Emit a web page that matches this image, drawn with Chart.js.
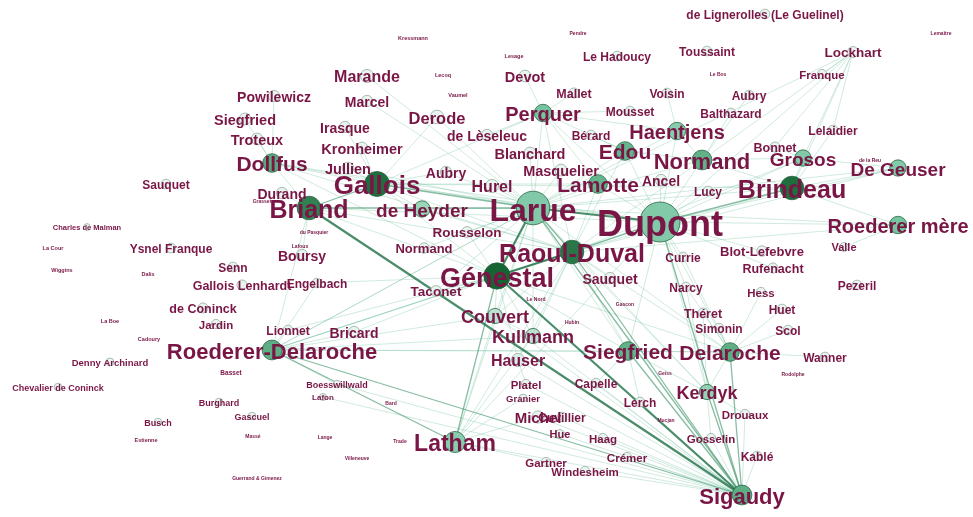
<!DOCTYPE html>
<html>
<head>
<meta charset="utf-8">
<script src="https://cdn.jsdelivr.net/npm/chart.js@4.4.1/dist/chart.umd.min.js"></script>
<style>
  html, body { margin: 0; padding: 0; background: #fff; }
  #wrap { width: 973px; height: 517px; }
</style>
</head>
<body>
<div id="wrap"><canvas id="network" width="973" height="517"></canvas></div>
<script>
// Hub nodes: name, x, y, weighted degree, shade (colour metric)
const hubNodes = [
    ['Dupont', 660, 222, 62, 0.45],
    ['Larue', 533, 208, 54, 0.45],
    ['Génestal', 497, 276, 44, 1.0],
    ['Raoul-Duval', 572, 252, 40, 0.9],
    ['Gallois', 377, 184, 42, 0.95],
    ['Briand', 309, 208, 40, 0.85],
    ['Brindeau', 792, 188, 40, 0.95],
    ['Roederer-Delaroche', 272, 350, 34, 0.62],
    ['Sigaudy', 742, 495, 34, 0.62],
    ['Latham', 455, 442, 36, 0.42],
    ['Siegfried', 628, 351, 32, 0.6],
    ['Delaroche', 730, 352, 32, 0.62],
    ['Normand', 702, 160, 34, 0.6],
    ['Lamotte', 598, 184, 32, 0.58],
    ['Edou', 625, 151, 32, 0.58],
    ['Grosos', 803, 158, 28, 0.45],
    ['Perquer', 543, 113, 30, 0.5],
    ['Haentjens', 677, 131, 30, 0.42],
    ['Dollfus', 272, 163, 32, 0.65],
    ['De Geuser', 898, 168, 28, 0.45],
    ['Roederer mère', 898, 225, 30, 0.5],
    ['Kerdyk', 707, 392, 26, 0.38],
    ['de Heyder', 422, 209, 28, 0.35],
    ['Couvert', 495, 316, 26, 0.22],
    ['Kullmann', 533, 336, 26, 0.22],
    ['Hauser', 518, 360, 22, 0.1]
];

// Member nodes: name, x, y, weighted degree
const memberNodes = [
    ['Marande', 367, 76, 22], ['Derode', 437, 117, 23], ['Powilewicz', 274, 96, 18],
    ['Siegfried#2', 245, 119, 19], ['Troteux', 257, 139, 19], ['Irasque', 345, 127, 18],
    ['Marcel', 367, 101, 18], ['Kronheimer', 362, 148, 19], ['Jullien', 348, 168, 19],
    ['de Lèseleuc', 487, 135, 18], ['Blanchard', 530, 153, 19], ['Masquelier', 561, 170, 19],
    ['Hurel', 492, 186, 22], ['Aubry', 446, 172, 18], ['Rousselon', 467, 232, 17],
    ['Normand#2', 424, 248, 16], ['Durand', 282, 193, 18], ['Boursy', 302, 255, 18],
    ['Sauquet', 166, 184, 14], ['Ysnel Franque', 171, 248, 14], ['Senn', 233, 267, 14],
    ['Gallois Lenhardt', 242, 285, 15], ['Engelbach', 317, 283, 14], ['de Coninck', 203, 308, 15],
    ['Jardin', 216, 324, 13], ['Lionnet', 288, 330, 14], ['Bricard', 354, 332, 18],
    ['Taconet', 436, 291, 17], ['Devot', 525, 76, 19], ['Mallet', 574, 93, 15],
    ['Le Hadoucy', 617, 56, 14], ['Mousset', 630, 111, 14], ['Voisin', 667, 93, 14],
    ['Bérard', 591, 135, 14], ['Ancel', 661, 180, 18], ['Lucy', 708, 191, 14],
    ['Toussaint', 707, 51, 14], ['Lockhart', 853, 52, 17], ['Franque', 822, 74, 13],
    ['Aubry#2', 749, 95, 14], ['Balthazard', 731, 113, 14], ['Lelaidier', 833, 130, 14],
    ['Bonnet', 775, 147, 15], ['Valle', 844, 247, 12], ['Currie', 683, 257, 14],
    ['Blot-Lefebvre', 762, 251, 16], ['Rufenacht', 773, 268, 15], ['Narcy', 686, 287, 14],
    ['Hess', 761, 292, 13], ['Pezeril', 857, 285, 14], ['Théret', 703, 313, 15],
    ['Huet', 782, 309, 14], ['Simonin', 719, 328, 14], ['Scol', 788, 330, 14],
    ['Wanner', 825, 357, 14], ['Sauquet#2', 610, 278, 18], ['Capelle', 596, 383, 14],
    ['Lerch', 640, 402, 14], ['Drouaux', 745, 414, 13], ['Gosselin', 711, 438, 13],
    ['Kablé', 757, 456, 14], ['Hue', 560, 434, 12], ['Haag', 603, 438, 13],
    ['Crémer', 627, 457, 13], ['Gartner', 546, 462, 13], ['Windesheim', 585, 471, 13],
    ['Cuvillier', 562, 417, 14], ['Michel', 538, 417, 20], ['Platel', 526, 384, 13],
    ['Granier', 523, 398, 9], ['Boesswillwald', 337, 384, 8], ['Lafon', 323, 397, 6],
    ['Burghard', 219, 402, 8], ['Gascuel', 252, 416, 8], ['Busch', 158, 422, 8],
    ['Denny Archinard', 110, 362, 9], ['Chevalier de Coninck', 58, 387, 8],
    ['de Lignerolles (Le Guelinel)', 765, 14, 14], ['Charles de Malman', 87, 227, 5]
];

// Isolated minor nodes: name, x, y, weighted degree
const minorNodes = [
    ['Kressmann', 413, 38, 1], ['Pendre', 578, 33, 0], ['Lemaître', 941, 33, 0],
    ['Lesage', 514, 56, 1], ['Lecoq', 443, 75, 1], ['Vaumel', 458, 95, 1],
    ['Le Bos', 718, 74, 0], ['de la Reu', 870, 160, 0], ['Grasset', 262, 201, 0],
    ['du Pasquier', 314, 232, 0], ['Lafoux', 300, 246, 0], ['La Cour', 53, 248, 1],
    ['Wiggins', 62, 270, 1], ['Dalis', 148, 274, 1], ['La Boe', 110, 321, 1],
    ['Cadoury', 149, 339, 1], ['Basset', 231, 372, 3], ['Le Nord', 536, 299, 0],
    ['Gascon', 625, 304, 0], ['Hubin', 572, 322, 0], ['Geiss', 665, 373, 0],
    ['Rodolphe', 793, 374, 0], ['Bard', 391, 403, 0], ['Mucjan', 666, 420, 0],
    ['Trade', 400, 441, 0], ['Lange', 325, 437, 0], ['Massé', 253, 436, 0],
    ['Estienne', 146, 440, 1], ['Villeneuve', 357, 458, 0], ['Guerrand & Gimenez', 257, 478, 0]
];

// Edges: source, target, weight
const edgeList = [
    ['Larue', 'Dupont', 3], ['Larue', 'Génestal', 3], ['Génestal', 'Sigaudy', 3],
    ['Briand', 'Sigaudy', 3], ['Raoul-Duval', 'Génestal', 3],
    ['Larue', 'Raoul-Duval', 2], ['Gallois', 'Larue', 2], ['Raoul-Duval', 'Sigaudy', 2],
    ['Larue', 'Sigaudy', 2], ['Roederer-Delaroche', 'Sigaudy', 2], ['Dupont', 'Raoul-Duval', 2],
    ['Dupont', 'Brindeau', 2], ['Roederer-Delaroche', 'Latham', 2], ['Dupont', 'Sigaudy', 2],
    ['Briand', 'Gallois', 2], ['Génestal', 'Latham', 2], ['Delaroche', 'Sigaudy', 2],
    ['Siegfried', 'Sigaudy', 2], ['Kerdyk', 'Sigaudy', 2], ['Briand', 'Larue', 2],
    ['Dupont', 'Roederer mère', 1], ['Dupont', 'De Geuser', 1], ['Dupont', 'Grosos', 1],
    ['Dupont', 'Normand', 1], ['Dupont', 'Edou', 1], ['Dupont', 'Lamotte', 1],
    ['Dupont', 'Haentjens', 1], ['Dupont', 'Génestal', 1], ['Dupont', 'Lockhart', 1],
    ['Dupont', 'Delaroche', 1], ['Dupont', 'Siegfried', 1], ['Dupont', 'Kerdyk', 1],
    ['Dupont', 'Currie', 1], ['Dupont', 'Blot-Lefebvre', 1], ['Dupont', 'Ancel', 1],
    ['Dupont', 'Lucy', 1], ['Dupont', 'Perquer', 1], ['Dupont', 'Narcy', 1],
    ['Dupont', 'Gallois', 1], ['Dupont', 'Briand', 1], ['Dupont', 'Dollfus', 1],
    ['Dupont', 'Roederer-Delaroche', 1], ['Dupont', 'Latham', 1], ['Dupont', 'Rufenacht', 1],
    ['Brindeau', 'Lockhart', 1], ['Brindeau', 'Roederer mère', 1], ['Brindeau', 'De Geuser', 1],
    ['Brindeau', 'Grosos', 1], ['Brindeau', 'Larue', 1], ['Brindeau', 'Normand', 1],
    ['Brindeau', 'Lelaidier', 1], ['Brindeau', 'Gallois', 1], ['Brindeau', 'Raoul-Duval', 1],
    ['Lockhart', 'Grosos', 1], ['Lockhart', 'Normand', 1], ['Lockhart', 'Franque', 1],
    ['Lockhart', 'Larue', 1], ['Lockhart', 'Lelaidier', 1], ['Lockhart', 'Bonnet', 1],
    ['Larue', 'Perquer', 1], ['Larue', 'Edou', 1], ['Larue', 'Lamotte', 1],
    ['Larue', 'Haentjens', 1], ['Larue', 'Normand', 1], ['Larue', 'de Heyder', 1],
    ['Larue', 'Hurel', 1], ['Larue', 'Dollfus', 1], ['Larue', 'Roederer-Delaroche', 1],
    ['Larue', 'Couvert', 1], ['Larue', 'Kullmann', 1], ['Larue', 'Latham', 1],
    ['Larue', 'Siegfried', 1], ['Larue', 'Delaroche', 1], ['Larue', 'Kerdyk', 1],
    ['Larue', 'Jullien', 1], ['Larue', 'Roederer mère', 1], ['Larue', 'De Geuser', 1],
    ['Larue', 'Marande', 1], ['Larue', 'Marcel', 1], ['Larue', 'Derode', 1],
    ['Larue', 'Aubry', 1], ['Larue', 'Blanchard', 1], ['Larue', 'Masquelier', 1],
    ['Larue', 'Taconet', 1], ['Larue', 'Normand#2', 1], ['Larue', 'Rousselon', 1],
    ['Gallois', 'Dollfus', 1], ['Gallois', 'Jullien', 1], ['Gallois', 'Génestal', 1],
    ['Gallois', 'de Heyder', 1], ['Gallois', 'Aubry', 1], ['Gallois', 'Perquer', 1],
    ['Gallois', 'Derode', 1], ['Gallois', 'Irasque', 1], ['Gallois', 'Kronheimer', 1],
    ['Gallois', 'Lamotte', 1], ['Gallois', 'Raoul-Duval', 1],
    ['Briand', 'Raoul-Duval', 1], ['Briand', 'Roederer-Delaroche', 1], ['Briand', 'Génestal', 1],
    ['Briand', 'Durand', 1], ['Briand', 'Boursy', 1], ['Briand', 'Dollfus', 1],
    ['Génestal', 'Roederer-Delaroche', 1], ['Génestal', 'Couvert', 1], ['Génestal', 'Kullmann', 1],
    ['Génestal', 'Siegfried', 1], ['Génestal', 'Delaroche', 1], ['Génestal', 'Taconet', 1],
    ['Génestal', 'Hauser', 1], ['Génestal', 'Lionnet', 1], ['Génestal', 'Bricard', 1],
    ['Génestal', 'Engelbach', 1], ['Génestal', 'Rousselon', 1], ['Génestal', 'Dollfus', 1],
    ['Roederer-Delaroche', 'Raoul-Duval', 1], ['Roederer-Delaroche', 'Lionnet', 1],
    ['Roederer-Delaroche', 'Kullmann', 1], ['Roederer-Delaroche', 'Siegfried', 1],
    ['Roederer-Delaroche', 'Delaroche', 1], ['Roederer-Delaroche', 'Boesswillwald', 1],
    ['Roederer-Delaroche', 'Engelbach', 1], ['Roederer-Delaroche', 'Couvert', 1],
    ['Roederer-Delaroche', 'Bricard', 1], ['Roederer-Delaroche', 'Larue', 1],
    ['Siegfried', 'Delaroche', 1], ['Siegfried', 'Raoul-Duval', 1], ['Siegfried', 'Lerch', 1],
    ['Siegfried', 'Capelle', 1], ['Siegfried', 'Kerdyk', 1],
    ['Delaroche', 'Kerdyk', 1], ['Delaroche', 'Raoul-Duval', 1], ['Delaroche', 'Théret', 1],
    ['Delaroche', 'Simonin', 1], ['Delaroche', 'Hess', 1], ['Delaroche', 'Huet', 1],
    ['Delaroche', 'Scol', 1], ['Delaroche', 'Wanner', 1], ['Delaroche', 'Narcy', 1],
    ['Delaroche', 'Currie', 1],
    ['Kerdyk', 'Raoul-Duval', 1], ['Kerdyk', 'Gosselin', 1], ['Kerdyk', 'Drouaux', 1],
    ['Kerdyk', 'Théret', 1], ['Kerdyk', 'Narcy', 1],
    ['Latham', 'Kullmann', 1], ['Latham', 'Couvert', 1], ['Latham', 'Raoul-Duval', 1],
    ['Latham', 'Gartner', 1], ['Latham', 'Michel', 1], ['Latham', 'Granier', 1],
    ['Perquer', 'Edou', 1], ['Perquer', 'Lamotte', 1], ['Perquer', 'Haentjens', 1],
    ['Perquer', 'Mousset', 1], ['Perquer', 'de Lèseleuc', 1], ['Perquer', 'Mallet', 1],
    ['Perquer', 'Devot', 1], ['Perquer', 'Raoul-Duval', 1],
    ['Normand', 'Edou', 1], ['Normand', 'Haentjens', 1], ['Normand', 'Grosos', 1],
    ['Normand', 'Balthazard', 1], ['Normand', 'Aubry#2', 1], ['Normand', 'Raoul-Duval', 1],
    ['Haentjens', 'Voisin', 1], ['Edou', 'Bérard', 1], ['Edou', 'Raoul-Duval', 1],
    ['Lamotte', 'Raoul-Duval', 1], ['Grosos', 'Raoul-Duval', 1], ['Grosos', 'Bonnet', 1],
    ['Roederer mère', 'Valle', 1], ['Roederer mère', 'Raoul-Duval', 1],
    ['De Geuser', 'Raoul-Duval', 1], ['De Geuser', 'Grosos', 1],
    ['Dollfus', 'Powilewicz', 1], ['Dollfus', 'Siegfried#2', 1], ['Dollfus', 'Troteux', 1],
    ['Dollfus', 'Raoul-Duval', 1],
    ['Raoul-Duval', 'Sauquet#2', 1], ['Raoul-Duval', 'Couvert', 1], ['Raoul-Duval', 'Kullmann', 1],
    ['Raoul-Duval', 'Hauser', 1], ['Raoul-Duval', 'de Heyder', 1],
    ['Sigaudy', 'Kullmann', 1], ['Sigaudy', 'Hauser', 1], ['Sigaudy', 'Couvert', 1],
    ['Sigaudy', 'Capelle', 1], ['Sigaudy', 'Lerch', 1], ['Sigaudy', 'Gosselin', 1],
    ['Sigaudy', 'Kablé', 1], ['Sigaudy', 'Drouaux', 1], ['Sigaudy', 'Crémer', 1],
    ['Sigaudy', 'Haag', 1], ['Sigaudy', 'Windesheim', 1], ['Sigaudy', 'Cuvillier', 1],
    ['Sigaudy', 'Michel', 1], ['Sigaudy', 'Hue', 1], ['Sigaudy', 'Latham', 1],
    ['Sigaudy', 'Boesswillwald', 1], ['Sigaudy', 'Lafon', 1], ['Sigaudy', 'Platel', 1],
    ['Hauser', 'Platel', 1], ['Kullmann', 'Couvert', 1]
];

// Build a single node table from the groups
const nodes = [];
hubNodes.forEach(n => nodes.push({ key: n[0], x: n[1], y: n[2], degree: n[3], shade: n[4] }));
memberNodes.forEach(n => nodes.push({ key: n[0], x: n[1], y: n[2], degree: n[3], shade: 0.04 }));
minorNodes.forEach(n => nodes.push({ key: n[0], x: n[1], y: n[2], degree: n[3], shade: 0 }));

const nodeByKey = {};
nodes.forEach(n => { nodeByKey[n.key] = n; });

// Duplicate surnames carry a "#2" suffix in their key only
function displayName(key) {
    return key.replace(/#\d+$/, '');
}

function nodeRadius(degree) {
    return 3 + Math.pow(degree / 62, 1.5) * 17;
}

function labelSize(degree) {
    return 5 + degree * 0.5;
}

// Three stop ramp: near white -> mid green -> dark green
function shadeColor(t) {
    const stops = [[244, 248, 246], [116, 196, 159], [22, 100, 50]];
    let a, b, f;
    if (t <= 0.5) { a = stops[0]; b = stops[1]; f = t / 0.5; }
    else { a = stops[1]; b = stops[2]; f = (t - 0.5) / 0.5; }
    const c = a.map((v, i) => Math.round(v + (b[i] - v) * f));
    return `rgb(${c[0]},${c[1]},${c[2]})`;
}

// Edges go underneath the nodes
const edgePlugin = {
    id: 'edges',
    beforeDatasetsDraw(chart) {
        const ctx = chart.ctx;
        const xs = chart.scales.x;
        const ys = chart.scales.y;
        ctx.save();
        ctx.lineCap = 'round';
        const sorted = edgeList.slice().sort((a, b) => a[2] - b[2]);
        sorted.forEach(([s, t, w]) => {
            const a = nodeByKey[s];
            const b = nodeByKey[t];
            if (!a || !b) return;
            if (w >= 3) { ctx.strokeStyle = 'rgba(30,112,70,0.8)'; ctx.lineWidth = 2.2; }
            else if (w === 2) { ctx.strokeStyle = 'rgba(55,145,100,0.6)'; ctx.lineWidth = 1.3; }
            else { ctx.strokeStyle = 'rgba(100,185,150,0.38)'; ctx.lineWidth = 0.8; }
            ctx.beginPath();
            ctx.moveTo(xs.getPixelForValue(a.x), ys.getPixelForValue(a.y));
            ctx.lineTo(xs.getPixelForValue(b.x), ys.getPixelForValue(b.y));
            ctx.stroke();
        });
        ctx.restore();
    }
};

// Labels sit on top, centered on their node
const labelPlugin = {
    id: 'labels',
    afterDatasetsDraw(chart) {
        const ctx = chart.ctx;
        const xs = chart.scales.x;
        const ys = chart.scales.y;
        ctx.save();
        ctx.textAlign = 'center';
        ctx.textBaseline = 'middle';
        ctx.fillStyle = '#7a1646';
        const ordered = nodes.slice().sort((a, b) => a.degree - b.degree);
        ordered.forEach(n => {
            const size = labelSize(n.degree);
            ctx.font = `bold ${size.toFixed(1)}px "Liberation Sans", Arial, sans-serif`;
            const px = xs.getPixelForValue(n.x);
            const py = ys.getPixelForValue(n.y) + size * 0.12;
            ctx.fillText(displayName(n.key), px, py);
        });
        ctx.restore();
    }
};

const points = nodes.map(n => ({ x: n.x, y: n.y, r: nodeRadius(n.degree) }));

new Chart(document.getElementById('network').getContext('2d'), {
    type: 'bubble',
    data: {
        datasets: [{
            data: points,
            backgroundColor: nodes.map(n => n.degree <= 3 ? 'rgba(255,255,255,0)' : shadeColor(n.shade)),
            borderColor: nodes.map(n => n.degree <= 3 ? 'rgba(0,0,0,0)' :
                (n.shade > 0.2 ? 'rgba(35,95,60,0.75)' : 'rgba(160,182,172,0.9)')),
            borderWidth: 1,
            clip: false
        }]
    },
    options: {
        responsive: false,
        animation: false,
        layout: { padding: 0, autoPadding: false },
        scales: {
            x: { type: 'linear', min: 0, max: 973, display: false },
            y: { type: 'linear', min: 0, max: 517, reverse: true, display: false }
        },
        plugins: {
            legend: { display: false },
            tooltip: { enabled: false }
        },
        elements: { point: { hoverRadius: 0 } }
    },
    plugins: [edgePlugin, labelPlugin]
});
</script>
</body>
</html>
